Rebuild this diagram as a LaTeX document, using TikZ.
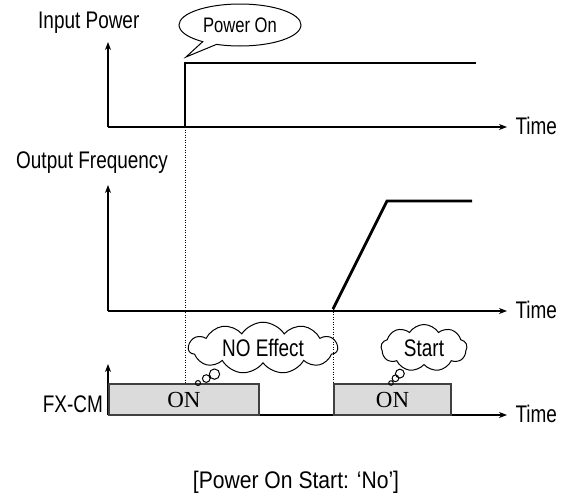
\documentclass[tikz,border=0pt]{standalone}
\usepackage{fontspec}
\newfontfamily\labelfont{Liberation Sans}[FakeStretch=0.79]
\newfontfamily\capfont{Liberation Sans}[FakeStretch=0.88]
\newfontfamily\onfont{Liberation Serif}
\usetikzlibrary{arrows.meta, shapes.callouts, shapes.symbols}

\tikzset{
  axis/.style={line width=1.2pt, -{Stealth[length=8pt, width=6pt, inset=2.5pt]}},
  sig/.style={line width=2.8pt},
  guide/.style={line width=0.6pt, dash pattern=on 1pt off 1.5pt},
  lbl/.style={font=\labelfont\fontsize{24}{26}\selectfont, inner sep=0pt},
  onbox/.style={draw=black!75, fill=black!14, line width=1.2pt,
    font=\onfont\fontsize{23}{25}\selectfont, inner sep=0pt},
  thought/.style={cloud callout, draw, line width=1pt, cloud puff arc=115,
    inner sep=0pt, callout pointer segments=3,
    font=\labelfont\fontsize{24}{26}\selectfont}
}

\begin{document}
\begin{tikzpicture}[x=1pt, y=-1pt]
  \useasboundingbox (0,0) rectangle (564,501);

  % 坐标轴
  \foreach \n/\y/\t in {a/127/42, b/311/185, c/415/364} {
    \draw[axis] (108,\y) -- (108,\t);
    \draw[axis] (108,\y) -- (507,\y)
      node[lbl, anchor=base west, xshift=8pt, yshift=-7pt] (time\n) {Time};
  }

  % 标签
  \node[lbl, anchor=base west] (inp) at (38,28) {Input Power};
  \node[lbl, anchor=base west] (outf) at (16,168) {Output Frequency};
  \node[lbl, anchor=base east] (fxcm) at (103,412) {FX-CM};

  % 信号
  \draw[sig] (185,127) -- (185,63) -- (476,63);
  \draw[sig] (333,309) -- (387,201) -- (472,201);

  % 虚线
  \draw[guide] (185,127) -- (185,384);
  \draw[guide] (333,309) -- (333,384);

  % FX-CM 方块
  \node[onbox, minimum width=150pt, minimum height=31pt] (on1) at (184,399.5) {ON};
  \node[onbox, minimum width=117pt, minimum height=31pt] (on2) at (392.5,399.5) {ON};

  % 说明框
  \node[ellipse callout, draw, line width=1pt, inner sep=0pt,
    minimum width=122pt, minimum height=42pt,
    callout absolute pointer={(186,57)},
    font=\labelfont\fontsize{21}{23}\selectfont] (pwron) at (240,25) {Power On};
  \node[thought, cloud puffs=11, aspect=3.3, minimum width=149pt, minimum height=45pt,
    callout pointer start size=36pt and 13pt, callout pointer end size=13pt and 5pt,
    callout absolute pointer={(198,383)}] (noeff) at (263,348) {NO Effect};
  \node[thought, cloud puffs=9, aspect=1.8, minimum width=86pt, minimum height=47pt,
    callout pointer start size=28pt and 11pt, callout pointer end size=11pt and 4.5pt,
    callout absolute pointer={(391,383)}] (start) at (424,348) {Start};

  \node[font=\capfont\fontsize{24}{26}\selectfont, inner sep=0pt,
    anchor=base] (cap) at (296,488) {[Power On Start: ‘No’]};
\end{tikzpicture}
\end{document}
